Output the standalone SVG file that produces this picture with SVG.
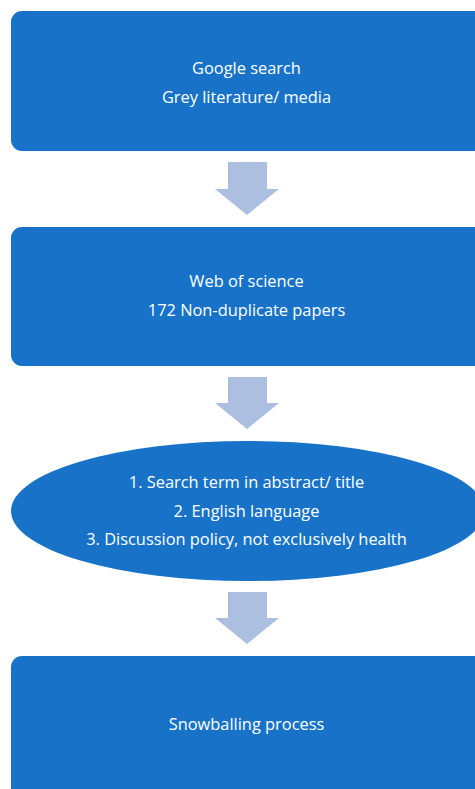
<svg xmlns="http://www.w3.org/2000/svg" width="475" height="789" viewBox="0 0 475 789">
<style>
.n{fill:#1873c8}
.t{font-family:"Open Sans","Liberation Sans",sans-serif;font-size:16.4px;fill:#ffffff;text-anchor:middle}
.a{fill:#adbfe0}
</style>
<rect width="475" height="789" fill="#ffffff"/>
<g id="connectors">
<polygon class="a" points="228,162 267,162 267,189 279,189 247,215 215,189 228,189"/>
<polygon class="a" points="228,377 267,377 267,403 279,403 247,429 215,403 228,403"/>
<polygon class="a" points="228,592 267,592 267,618 279,618 247,644 215,618 228,618"/>
</g>
<g id="n1">
<rect class="n" x="11" y="11" width="480" height="140" rx="11"/>
<text class="t" x="246.5" y="74">Google search</text>
<text class="t" x="246.5" y="103">Grey literature/ media</text>
</g>
<g id="n2">
<rect class="n" x="11" y="227" width="480" height="139" rx="11"/>
<text class="t" x="246.5" y="287">Web of science</text>
<text class="t" x="246.5" y="316">172 Non-duplicate papers</text>
</g>
<g id="n3">
<ellipse class="n" cx="248" cy="511" rx="237" ry="70"/>
<text class="t" x="246.5" y="488">1. Search term in abstract/ title</text>
<text class="t" x="246.5" y="517">2. English language</text>
<text class="t" x="246.5" y="545">3. Discussion policy, not exclusively health</text>
</g>
<g id="n4">
<rect class="n" x="11" y="656" width="480" height="150" rx="11"/>
<text class="t" x="246.5" y="730">Snowballing process</text>
</g>
</svg>
